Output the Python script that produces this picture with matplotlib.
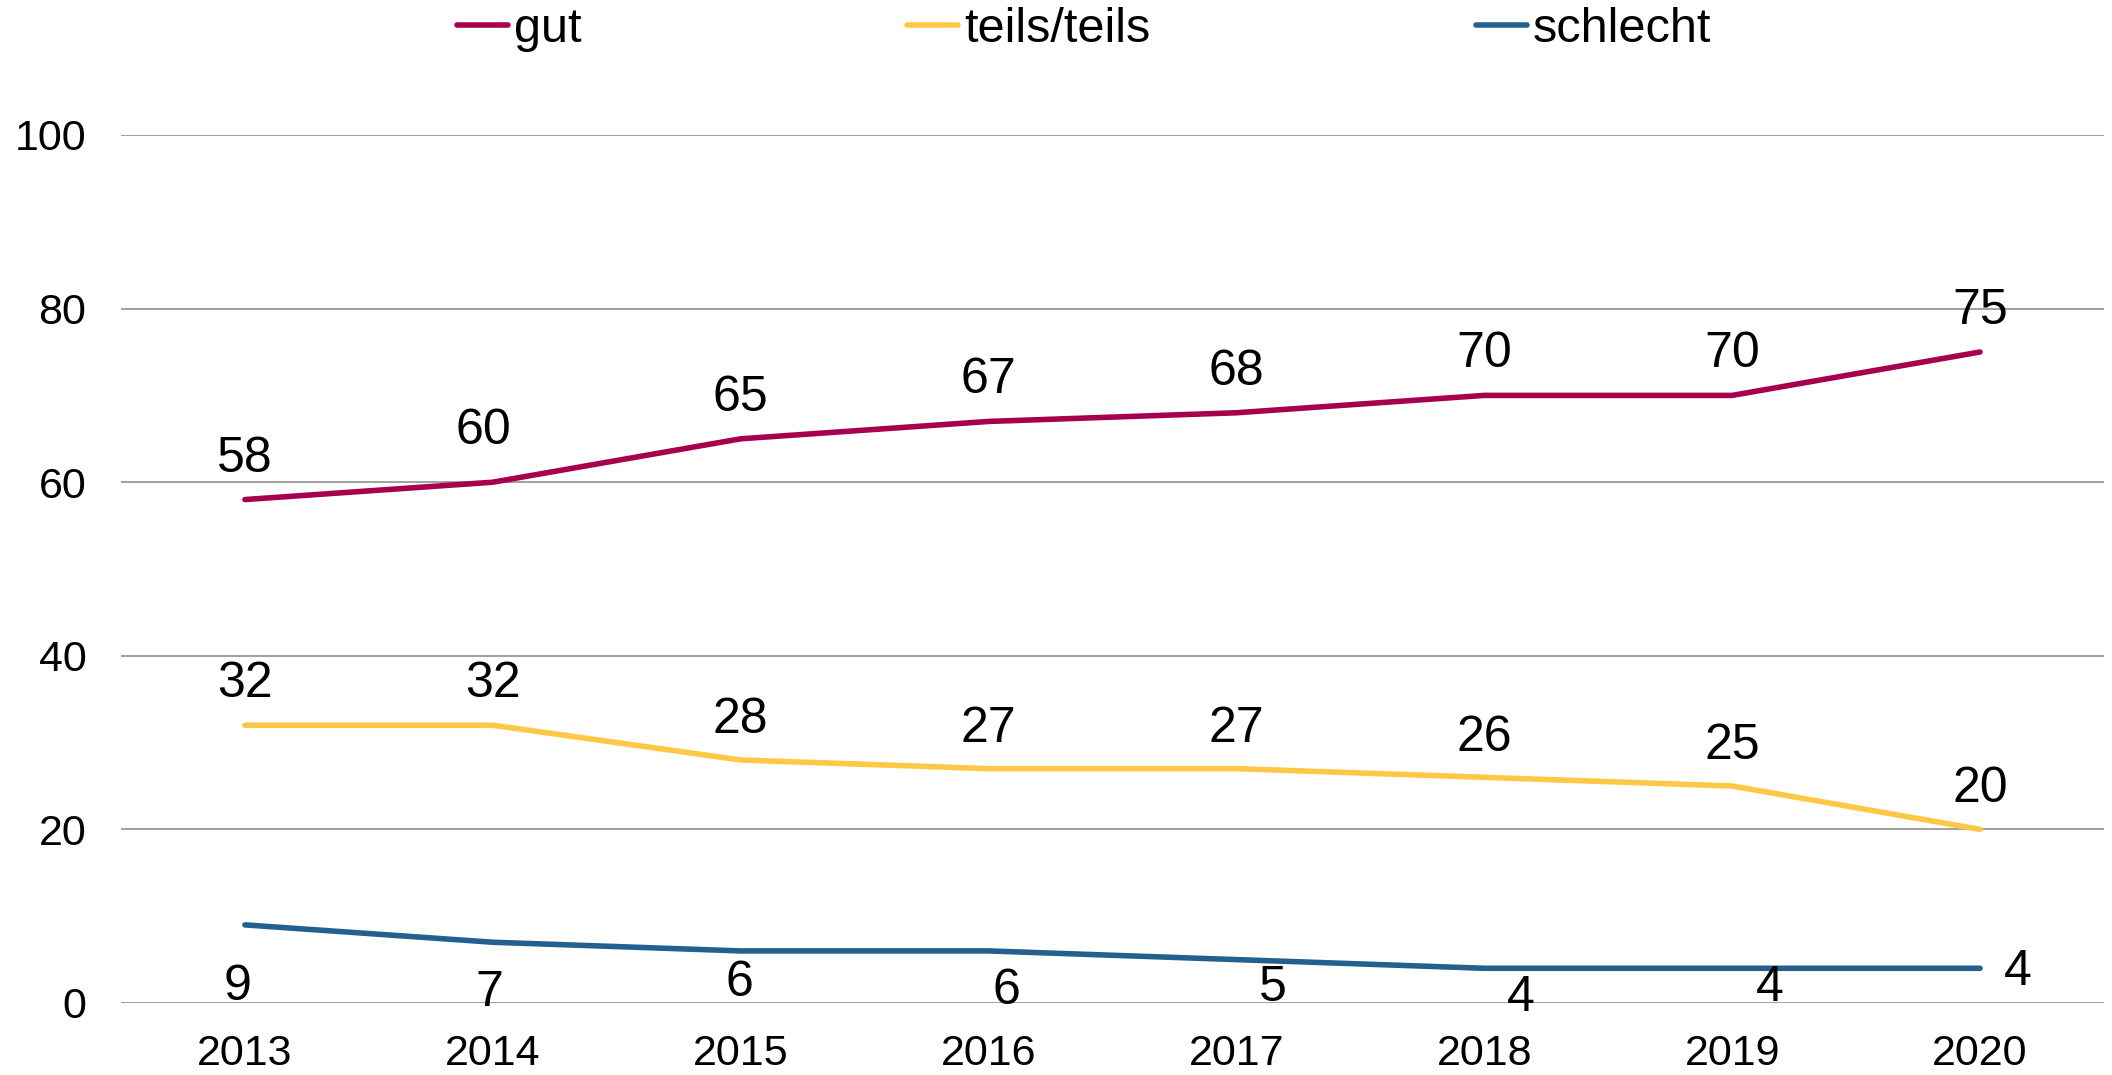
import matplotlib.pyplot as plt
import numpy as np

plt.rcParams['font.family'] = ['Liberation Sans', 'DejaVu Sans']

# Daten
jahre = ['2013', '2014', '2015', '2016', '2017', '2018', '2019', '2020']
gut = [58, 60, 65, 67, 68, 70, 70, 75]
teils = [32, 32, 28, 27, 27, 26, 25, 20]
schlecht = [9, 7, 6, 6, 5, 4, 4, 4]

farbe_gut = '#A6004E'
farbe_teils = '#FDC844'
farbe_schlecht = '#23608F'

W, H = 2112, 1075
fig = plt.figure(figsize=(W / 100, H / 100), dpi=100)
ax = fig.add_axes([121 / W, 1 - 1003 / H, (2104 - 121) / W, (1003 - 135) / H])

x = np.arange(len(jahre))
l1, = ax.plot(x, gut, color=farbe_gut, lw=4, solid_capstyle='round', label='gut')
l2, = ax.plot(x, teils, color=farbe_teils, lw=4, solid_capstyle='round', label='teils/teils')
l3, = ax.plot(x, schlecht, color=farbe_schlecht, lw=4, solid_capstyle='round', label='schlecht')

ax.set_xlim(-0.5, len(jahre) - 0.5)
ax.set_ylim(0, 100)
ax.set_yticks(range(0, 101, 20))
ax.set_xticks(x)
ax.set_xticklabels(jahre)
ax.tick_params(axis='both', length=0, labelsize=31)
ax.tick_params(axis='x', pad=22)
ax.tick_params(axis='y', pad=25)
ax.grid(axis='y', color='#989898', lw=1.3)
ax.set_axisbelow(True)
for s in ax.spines.values():
    s.set_visible(False)

# Beschriftungen (Pixel-Versatz)
off_gut = [(0, 41), (-9, 51), (0, 41), (0, 41), (0, 41), (0, 41), (0, 41), (0, 41)]
off_teils = [(0, 41), (0, 41), (0, 40), (0, 40), (0, 40), (0, 39), (0, 40), (0, 40)]
off_schlecht = [(-7, -62), (-4, -51), (-1, -32), (18, -40), (36, -28), (36, -30), (38, -20), (38, -4)]

for werte, offs in [(gut, off_gut), (teils, off_teils), (schlecht, off_schlecht)]:
    for xi, v, (dx, dy) in zip(x, werte, offs):
        ax.annotate(str(v), (xi, v), xytext=(dx, dy), textcoords='offset pixels',
                    ha='center', va='center', fontsize=36)

fig.legend(handles=[l1, l2, l3], loc='center', bbox_to_anchor=(0.5 + 28 / W, 1 - 30 / H),
           ncol=3, frameon=False, fontsize=35, handlelength=1.05, handletextpad=0.12,
           columnspacing=6.7)

fig.savefig('out.png', dpi=100)
